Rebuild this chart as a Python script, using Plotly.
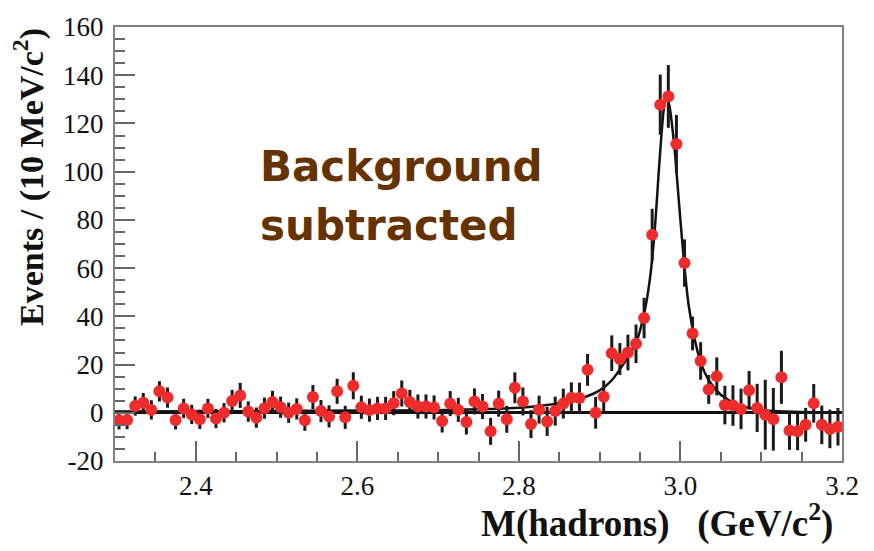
import plotly.graph_objects as go

# Invariant-mass bins (10 MeV wide), 2.30 - 3.20 GeV/c^2
mass = [round(2.305 + 0.01 * i, 3) for i in range(90)]

events = [
    -3.1, -3.0, 2.8, 4.2, 1.2, 8.9, 6.3, -3.0, 1.8, -0.7,
    -2.7, 1.8, -2.4, 0.0, 4.9, 7.2, 0.5, -2.0, 1.9, 4.5,
    2.3, 0.0, 1.6, -3.1, 6.5, 0.7, -1.5, 8.9, -1.9, 11.2,
    2.3, 1.1, 1.8, 1.8, 4.0, 8.0, 4.5, 2.6, 2.6, 2.2,
    -3.4, 3.8, 1.2, -3.8, 4.7, 2.6, -7.7, 3.8, -2.7, 10.4,
    4.7, -4.7, 1.3, -3.6, 0.7, 3.8, 6.2, 6.1, 17.8, 0.0,
    6.6, 24.7, 22.3, 25.0, 28.6, 39.3, 73.8, 127.8, 131.2, 111.5,
    62.1, 32.9, 21.5, 9.7, 15.1, 3.2, 3.0, 1.6, 9.3, 2.0,
    -0.8, -2.7, 14.7, -7.4, -7.7, -5.0, 3.9, -5.0, -6.7, -5.8,
]

errors = [
    3.8, 3.8, 4.0, 4.0, 4.0, 4.2, 4.2, 3.9, 4.0, 4.0,
    4.0, 4.0, 4.0, 4.0, 4.6, 5.2, 4.2, 4.2, 4.4, 4.6,
    4.4, 4.2, 4.4, 4.4, 5.0, 4.6, 4.6, 5.2, 4.8, 5.6,
    4.8, 4.8, 4.8, 4.8, 5.0, 5.4, 5.0, 5.0, 5.0, 5.0,
    4.8, 5.2, 5.0, 5.2, 5.4, 5.2, 5.6, 5.4, 5.6, 6.4,
    5.8, 5.8, 5.8, 6.0, 6.0, 6.2, 6.4, 6.4, 6.6, 6.6,
    6.8, 7.4, 6.6, 7.4, 8.0, 8.4, 10.8, 12.5, 13.0, 12.0,
    9.8, 7.0, 7.8, 6.0, 7.9, 8.0, 8.4, 8.4, 8.0, 10.0,
    14.5, 13.0, 11.0, 8.0, 7.8, 7.0, 8.0, 8.0, 8.0, 7.8,
]

# Fitted line shape (eta_c peak)
fit_mass = [2.30, 2.40, 2.50, 2.60, 2.70, 2.75, 2.80, 2.83, 2.86, 2.88,
            2.90, 2.915, 2.93, 2.945, 2.955, 2.962, 2.968, 2.974, 2.979, 2.982,
            2.986, 2.992, 2.998, 3.004, 3.010, 3.018, 3.025, 3.035, 3.05, 3.07,
            3.09, 3.11, 3.14, 3.20]
fit_events = [0.5, 0.6, 0.7, 0.9, 1.1, 1.5, 2.1, 3.0, 4.6, 6.3,
              9.3, 13.5, 20.5, 29.0, 41.0, 55.0, 75.0, 104.0, 125.0, 132.0,
              128.0, 112.0, 88.0, 64.0, 45.0, 30.0, 21.0, 13.5, 7.5, 3.5,
              1.7, 0.8, 0.4, 0.2]

x_ticks = [2.4, 2.6, 2.8, 3.0, 3.2]
x_tick_text = ["2.4", "2.6", "2.8", "3.0", "3.2"]
y_ticks = [-20, 0, 20, 40, 60, 80, 100, 120, 140, 160]
y_tick_text = ["-20", "0", "20", "40", "60", "80", "100", "120", "140", "160"]

serif = "Liberation Serif, Times New Roman, serif"

fig = go.Figure()

fig.add_trace(go.Scatter(
    x=fit_mass, y=fit_events, mode="lines",
    line=dict(color="#111111", width=2.5, shape="spline", smoothing=0.8),
    hoverinfo="skip", showlegend=False,
))

fig.add_trace(go.Scatter(
    x=mass, y=events, mode="markers",
    marker=dict(color="#ee2c2c", size=12, line=dict(width=0)),
    error_y=dict(type="data", array=errors, color="#1a1a1a", thickness=3, width=0),
    showlegend=False,
))

fig.update_layout(
    width=874, height=551,
    margin=dict(l=115, r=32, t=19, b=90),
    paper_bgcolor="white", plot_bgcolor="white",
    font=dict(family=serif, color="#111111"),
    xaxis=dict(
        range=[2.3, 3.2], tickvals=x_ticks, ticktext=x_tick_text,
        ticks="inside", ticklen=20, tickwidth=1.5, tickcolor="#666666",
        minor=dict(dtick=0.05, tick0=2.3, ticks="inside", ticklen=9, tickwidth=1.5, tickcolor="#666666"),
        showline=True, linecolor="#808080", linewidth=2, mirror=True,
        showgrid=False, zeroline=False,
        tickfont=dict(family=serif, size=27, color="#111111"),
    ),
    yaxis=dict(
        range=[-20, 160], tickvals=y_ticks, ticktext=y_tick_text,
        ticks="inside", ticklen=20, tickwidth=1.5, tickcolor="#666666",
        minor=dict(dtick=5, tick0=0, ticks="inside", ticklen=10, tickwidth=1.5, tickcolor="#666666"),
        showline=True, linecolor="#808080", linewidth=2, mirror=True,
        showgrid=False, zeroline=True, zerolinecolor="#111111", zerolinewidth=2.5,
        tickfont=dict(family=serif, size=27, color="#111111"),
        ticklabelstandoff=4,
    ),
)

fig.add_annotation(
    xref="paper", yref="paper", x=-0.118, y=0.655,
    text="<b>Events / (10 MeV/c<sup>2</sup>)</b>", textangle=-90,
    showarrow=False, xanchor="center", yanchor="middle",
    font=dict(family=serif, size=34, color="#111111"),
)

fig.add_annotation(
    xref="paper", yref="paper", x=0.99, y=-0.138,
    text="<b>M(hadrons)&nbsp;&nbsp;&nbsp;(GeV/c<sup>2</sup>)</b>",
    showarrow=False, xanchor="right", yanchor="middle",
    font=dict(family=serif, size=37, color="#111111"),
)

brown = "#663300"
fig.add_annotation(
    x=2.477, y=102.0, text="<b>Background</b>", showarrow=False,
    xanchor="left", yanchor="middle",
    font=dict(family="Comic Sans MS, DejaVu Sans, sans-serif", size=42, color=brown),
)
fig.add_annotation(
    x=2.477, y=77.5, text="<b>subtracted</b>", showarrow=False,
    xanchor="left", yanchor="middle",
    font=dict(family="Comic Sans MS, DejaVu Sans, sans-serif", size=42, color=brown),
)

fig.write_html("out.html")
